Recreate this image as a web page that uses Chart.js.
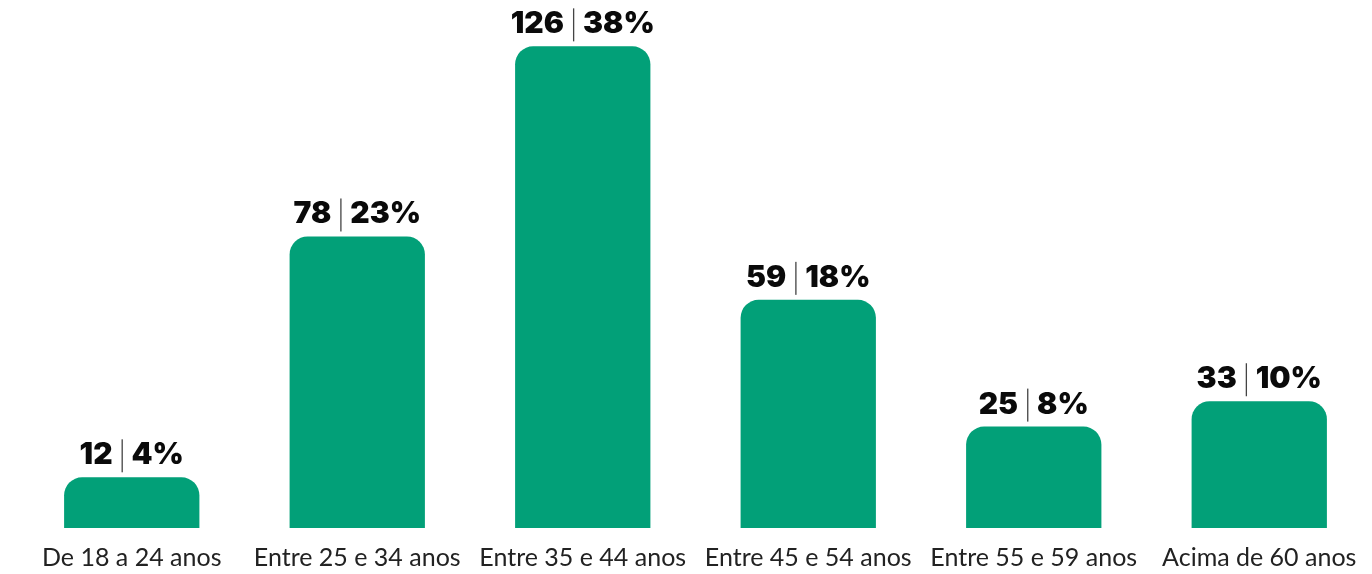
<!DOCTYPE html>
<html><head><meta charset="utf-8">
<script src="https://cdn.jsdelivr.net/npm/chart.js@4.4.0/dist/chart.umd.min.js"></script>
<style>html,body{margin:0;padding:0;background:#fff}#wrap{width:1372px;height:574px}</style>
</head><body><div id="wrap"><canvas id="c" width="1372" height="574"></canvas></div>
<script>
const categories = ["De 18 a 24 anos","Entre 25 e 34 anos","Entre 35 e 44 anos","Entre 45 e 54 anos","Entre 55 e 59 anos","Acima de 60 anos"];
const counts = [12, 78, 126, 59, 25, 33];
const percents = [4, 23, 38, 18, 8, 10];

const labelPlugin = {
  id: 'valueLabels',
  afterDatasetsDraw(chart) {
    const ctx = chart.ctx;
    const meta = chart.getDatasetMeta(0);
    ctx.save();
    ctx.font = '900 30px Inter';
    ctx.textBaseline = 'alphabetic';
    ctx.fillStyle = '#0a0a0a';
    meta.data.forEach((bar, i) => {
      const a = String(counts[i]);
      const b = percents[i] + '%';
      const wa = ctx.measureText(a).width;
      const wb = ctx.measureText(b).width;
      const gap = 9;
      const total = wa + gap * 2 + 1 + wb;
      const x0 = bar.x - total / 2;
      const yb = bar.y - 13;
      ctx.fillText(a, x0, yb);
      ctx.fillStyle = '#444';
      ctx.fillRect(x0 + wa + gap, yb - 25, 1.3, 33);
      ctx.fillStyle = '#0a0a0a';
      ctx.fillText(b, x0 + wa + gap * 2 + 1, yb);
    });
    ctx.restore();
  }
};

new Chart(document.getElementById('c'), {
  type: 'bar',
  data: {
    labels: categories,
    datasets: [{
      data: percents,
      backgroundColor: '#02a078',
      borderRadius: {topLeft: 18, topRight: 18, bottomLeft: 0, bottomRight: 0},
      borderSkipped: 'bottom',
      barPercentage: 0.75,
      categoryPercentage: 0.8
    }]
  },
  options: {
    responsive: false,
    animation: false,
    layout: {padding: {left: 19, right: 0, top: 21, bottom: 0}},
    plugins: {legend: {display: false}, tooltip: {enabled: false}},
    scales: {
      y: {display: false, min: 0, max: 40},
      x: {
        grid: {display: false},
        border: {display: false},
        ticks: {color: '#222', font: {family: 'Lato', size: 25}, padding: 7, maxRotation: 0, autoSkip: false},
        afterFit(s) { s.height = 46; }
      }
    }
  },
  plugins: [labelPlugin]
});
</script></body></html>
